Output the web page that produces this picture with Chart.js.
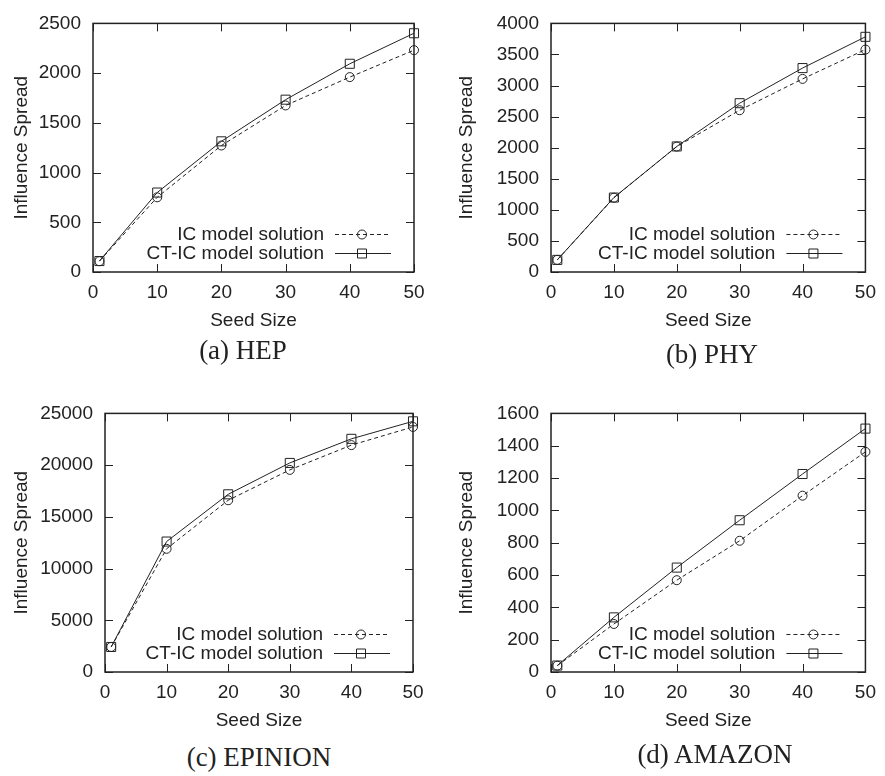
<!DOCTYPE html>
<html>
<head>
<meta charset="utf-8">
<script src="https://cdn.jsdelivr.net/npm/chart.js@4.4.1/dist/chart.umd.min.js"></script>
<style>
	body { margin: 0; background: #fff; }
	canvas { position: absolute; }
	.caption
	{
		position: absolute;
		font-family: "Liberation Serif", "Times New Roman", serif;
		font-size: 27px;
		line-height: 30px;
		color: #222;
		white-space: nowrap;
		transform: translateX(-50%);
	}
</style>
</head>
<body>
<canvas id="chart-hep" style="left:0px; top:0px;" width="440" height="340"></canvas>
<canvas id="chart-phy" style="left:445px; top:0px;" width="440" height="340"></canvas>
<canvas id="chart-epinion" style="left:0px; top:390px;" width="440" height="350"></canvas>
<canvas id="chart-amazon" style="left:445px; top:390px;" width="440" height="350"></canvas>
<div class="caption" style="left:243px; top:335px;">(a) HEP</div>
<div class="caption" style="left:712px; top:339px;">(b) PHY</div>
<div class="caption" style="left:259px; top:742px;">(c) EPINION</div>
<div class="caption" style="left:715px; top:739px;">(d) AMAZON</div>
<script>
const SeedSizes = [ 1, 10, 20, 30, 40, 50 ];
const SeriesLabels = [ "IC model solution", "CT-IC model solution" ];

const HepIC = [ 109, 751, 1272, 1675, 1960, 2231 ];
const HepCTIC = [ 110, 799, 1314, 1733, 2094, 2401 ];
const PhyIC = [ 195, 1195, 2018, 2603, 3107, 3579 ];
const PhyCTIC = [ 195, 1198, 2020, 2716, 3281, 3784 ];
const EpinionIC = [ 2420, 11909, 16603, 19540, 21935, 23691 ];
const EpinionCTIC = [ 2420, 12612, 17178, 20211, 22541, 24234 ];
const AmazonIC = [ 39, 297, 568, 812, 1091, 1362 ];
const AmazonCTIC = [ 40, 338, 646, 939, 1225, 1506 ];

const XTicks = [ 0, 10, 20, 30, 40, 50 ];

const Ink = "#222";
const FontSans = "'Liberation Sans', Arial, sans-serif";

	// gnuplot-like frame: border box with inward ticks on all four sides
const frame = {
	id: "frame",
	beforeDatasetsDraw(chart)
	{
		const { ctx, chartArea: { top, right, bottom, left } } = chart;
		const len = 8;
		ctx.save();
		ctx.strokeStyle = Ink;
		ctx.lineWidth = 1;
		ctx.beginPath();
		for (const t of chart.scales.x.ticks)
		{
			const px = Math.round(chart.scales.x.getPixelForValue(t.value)) + 0.5;
			ctx.moveTo(px, bottom);
			ctx.lineTo(px, bottom - len);
			ctx.moveTo(px, top);
			ctx.lineTo(px, top + len);
		}
		for (const t of chart.scales.y.ticks)
		{
			const py = Math.round(chart.scales.y.getPixelForValue(t.value)) + 0.5;
			ctx.moveTo(left, py);
			ctx.lineTo(left + len, py);
			ctx.moveTo(right, py);
			ctx.lineTo(right - len, py);
		}
		ctx.stroke();
		ctx.lineWidth = 1.5;
		ctx.strokeRect(left, top, right - left, bottom - top);
		ctx.restore();
	}
};

	// legend inside the plot, bottom right: text first, then line sample with marker
const insideLegend = {
	id: "insideLegend",
	afterDatasetsDraw(chart)
	{
		const { ctx, chartArea: { right, bottom } } = chart;
		ctx.save();
		ctx.font = "19px " + FontSans;
		ctx.textAlign = "right";
		ctx.textBaseline = "middle";
		const rows = chart.data.datasets.length;
		chart.data.datasets.forEach((ds, i) =>
		{
			const y = bottom - 19 * (rows - i) + 0.5;
			ctx.fillStyle = Ink;
			ctx.fillText(ds.label, right - 90, y);
			ctx.strokeStyle = ds.borderColor;
			ctx.lineWidth = ds.borderWidth;
			ctx.setLineDash(ds.borderDash || []);
			ctx.beginPath();
			ctx.moveTo(right - 79, y);
			ctx.lineTo(right - 23, y);
			ctx.stroke();
			ctx.setLineDash([]);
			const mx = right - 52;
			ctx.beginPath();
			if (ds.pointStyle == "rect")
				ctx.rect(mx - 4.5, y - 4.5, 9, 9);
			else
				ctx.arc(mx, y, ds.pointRadius, 0, Math.PI * 2);
			ctx.stroke();
		});
		ctx.restore();
	}
};

function MakePanel(id, icValues, ctValues, yMax, yStep, yWidth, padTop, padRight)
{
	const icData = SeedSizes.map((s, i) => ({ x: s, y: icValues[i] }));
	const ctData = SeedSizes.map((s, i) => ({ x: s, y: ctValues[i] }));
	const tickFont = { family: FontSans, size: 19 };

	return new Chart(document.getElementById(id), {
		type: "line",
		data: {
			datasets: [{
				label: SeriesLabels[0],
				data: icData,
				borderColor: Ink,
				borderWidth: 1,
				borderDash: [ 4, 3 ],
				pointStyle: "circle",
				pointRadius: 4.5,
				pointBorderWidth: 1,
				pointBorderColor: Ink,
				pointBackgroundColor: "transparent",
				clip: false,
			},
			{
				label: SeriesLabels[1],
				data: ctData,
				borderColor: Ink,
				borderWidth: 1,
				pointStyle: "rect",
				pointRadius: 6.4,
				pointBorderWidth: 1,
				pointBorderColor: Ink,
				pointBackgroundColor: "transparent",
				clip: false,
			}]
		},
		options: {
			responsive: false,
			animation: false,
			events: [],
			layout: {
				padding: { top: padTop, right: padRight, left: 0, bottom: 0 }
			},
			plugins: {
				legend: { display: false },
				tooltip: { enabled: false },
			},
			scales: {
				x: {
					type: "linear",
					min: 0,
					max: 50,
					afterBuildTicks: scale =>
					{
						scale.ticks = XTicks.map(v => ({ value: v }));
					},
					afterFit: scale =>
					{
						scale.height = 68;
					},
					grid: { display: false, drawTicks: false },
					border: { display: false },
					ticks: {
						font: tickFont,
						color: Ink,
						padding: 9,
						maxRotation: 0,
						autoSkip: false,
						callback: v => String(v),
					},
					title: {
						display: true,
						text: "Seed Size",
						font: { family: FontSans, size: 19, lineHeight: 1 },
						color: Ink,
						padding: { top: 0, bottom: 10 },
					},
				},
				y: {
					min: 0,
					max: yMax,
					afterFit: scale =>
					{
						scale.width = yWidth;
					},
					grid: { display: false, drawTicks: false },
					border: { display: false },
					ticks: {
						stepSize: yStep,
						font: tickFont,
						color: Ink,
						padding: 12,
						autoSkip: false,
						callback: v => String(v),
					},
					title: {
						display: true,
						text: "Influence Spread",
						font: { family: FontSans, size: 19, lineHeight: 1 },
						color: Ink,
						padding: { top: 12, bottom: 0 },
					},
				}
			}
		},
		plugins: [ frame, insideLegend ],
	});
}

MakePanel("chart-hep", HepIC, HepCTIC, 2500, 500, 93, 12, 26);
MakePanel("chart-phy", PhyIC, PhyCTIC, 4000, 500, 106, 13, 14);
MakePanel("chart-epinion", EpinionIC, EpinionCTIC, 25000, 5000, 105, 21, 27);
MakePanel("chart-amazon", AmazonIC, AmazonCTIC, 1600, 200, 106, 22, 14);
</script>
</body>
</html>
